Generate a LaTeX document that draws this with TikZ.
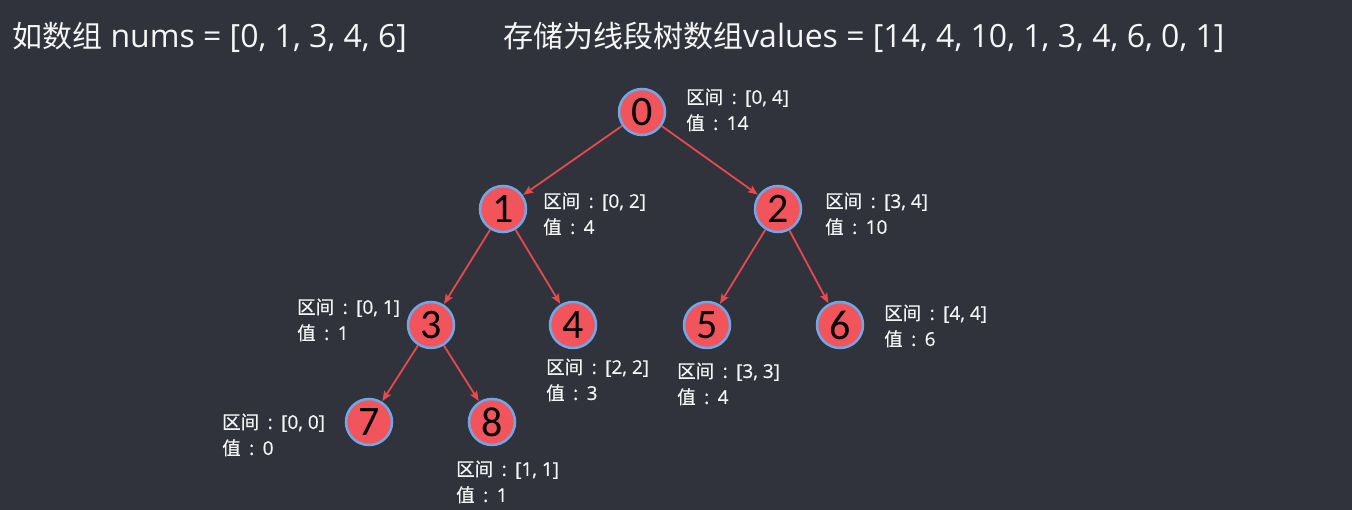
\documentclass[tikz,border=0pt]{standalone}
\usepackage{fontspec}
\usetikzlibrary{arrows.meta}
\setmainfont{Open Sans}
\newfontfamily\cjk{Noto Sans CJK SC}
\newfontfamily\labcjk{Noto Sans CJK SC}[FakeBold=0.5]
\newfontfamily\lablat{Open Sans}[FakeBold=0.5]
\newfontfamily\digitfont{Carlito}
\newcommand\cl{\makebox[22pt]{:}}
\newcommand\ti[1]{{\cjk\fontsize{30}{30}\selectfont #1}}
\newcommand\lc[1]{{\labcjk\fontsize{18.5}{26}\selectfont #1}}
\definecolor{bgc}{RGB}{48,51,60}
\definecolor{nodefill}{RGB}{242,84,92}
\definecolor{nodeborder}{RGB}{110,168,232}
\definecolor{edgec}{RGB}{232,72,78}
\definecolor{txt}{RGB}{245,245,245}
\tikzset{
  treenode/.style={circle, fill=nodefill, draw=nodeborder, line width=2.5pt, minimum size=46pt, inner sep=0pt, font=\digitfont\fontsize{42}{42}\selectfont, text=black},
  edge/.style={draw=edgec, line width=1.8pt, -{Stealth[length=10pt,width=8pt,inset=2pt]}, shorten >=0.5pt},
  info/.style={anchor=west, align=left, inner sep=0pt, text=txt, font=\lablat\fontsize{19}{26}\selectfont},
  title/.style={anchor=west, inner sep=0pt, text=txt, font=\fontsize{32}{32}\selectfont}
}
\begin{document}
\begin{tikzpicture}[x=1pt,y=-1pt]
\fill[bgc] (0,0) rectangle (1352,510);
\useasboundingbox (0,0) rectangle (1352,510);
\node[title] (t1) at (12,37) {\ti{如数组} nums = [0, 1, 3, 4, 6]};
\node[title] (t2) at (503,37) {\ti{存储为线段树数组}values = [14, 4, 10, 1, 3, 4, 6, 0, 1]};
\node[treenode] (n0) at (642,112) {0};
\node[treenode] (n1) at (503,209) {1};
\node[treenode] (n2) at (778,209) {2};
\node[treenode] (n3) at (431,325) {3};
\node[treenode] (n4) at (573,325) {4};
\node[treenode] (n5) at (707,325) {5};
\node[treenode] (n6) at (840,325) {6};
\node[treenode] (n7) at (369,422) {7};
\node[treenode] (n8) at (492,422) {8};
\draw[edge] (n0) -- (n1);
\draw[edge] (n0) -- (n2);
\draw[edge] (n1) -- (n3);
\draw[edge] (n1) -- (n4);
\draw[edge] (n2) -- (n5);
\draw[edge] (n2) -- (n6);
\draw[edge] (n3) -- (n7);
\draw[edge] (n3) -- (n8);
\node[info] (l0) at (686,110) {\lc{区间}\cl[0, 4]\\\lc{值}\cl 14};
\node[info] (l1) at (543,214) {\lc{区间}\cl[0, 2]\\\lc{值}\cl 4};
\node[info] (l2) at (825,214) {\lc{区间}\cl[3, 4]\\\lc{值}\cl 10};
\node[info] (l3) at (297,320) {\lc{区间}\cl[0, 1]\\\lc{值}\cl 1};
\node[info] (l4) at (546,380) {\lc{区间}\cl[2, 2]\\\lc{值}\cl 3};
\node[info] (l5) at (677,384) {\lc{区间}\cl[3, 3]\\\lc{值}\cl 4};
\node[info] (l6) at (884,326) {\lc{区间}\cl[4, 4]\\\lc{值}\cl 6};
\node[info] (l7) at (222,435) {\lc{区间}\cl[0, 0]\\\lc{值}\cl 0};
\node[info] (l8) at (456,482) {\lc{区间}\cl[1, 1]\\\lc{值}\cl 1};
\end{tikzpicture}
\end{document}
